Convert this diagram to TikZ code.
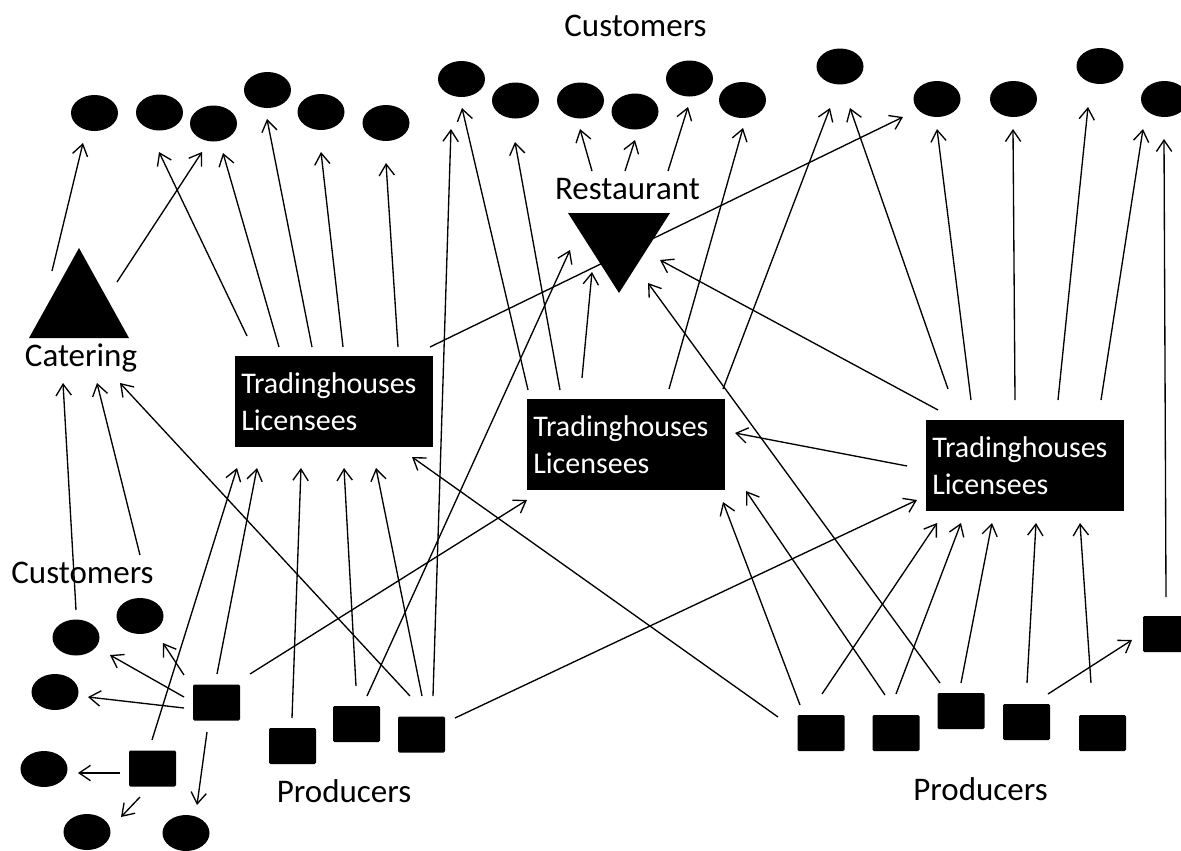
\documentclass[tikz,border=0pt]{standalone}
\usepackage{fontspec}
\setmainfont{Carlito}
\usetikzlibrary{arrows.meta,shapes.geometric}
\begin{document}
\begin{tikzpicture}[x=0.75pt,y=-0.75pt,
 arr/.style={-{Straight Barb[length=8.5pt,width=11.5pt]}, line width=1pt},
 cust/.style={ellipse,fill=black,minimum width=35.25pt,minimum height=27pt,inner sep=0pt},
 prod/.style={rectangle,fill=black,minimum width=35.25pt,minimum height=27pt,inner sep=0pt,rounded corners=1pt},
 thbox/.style={rectangle,fill=black,text=white,anchor=north west,minimum height=68.25pt,text width=139.5pt,inner xsep=4.5pt,align=left,font=\fontsize{22.5}{28}\selectfont},
 lab/.style={anchor=base,inner sep=0pt,font=\fontsize{24.75}{30}\selectfont}]
\useasboundingbox (0,0) rectangle (1181,850);
\clip (0,0) rectangle (1181,850);

% ---------- connectors (drawn first, shapes on top) ----------
% Catering -> customers
\draw[arr] (52,271) -- (83,143);
\draw[arr] (117,282) -- (202,152);
% Tradinghouses 1 -> customers
\draw[arr] (247,336) -- (159,152);
\draw[arr] (279,347) -- (223,153);
\draw[arr] (312,347) -- (267,119);
\draw[arr] (343,347) -- (321,152);
\draw[arr] (398,347) -- (386,163);
\draw[arr] (430,347) -- (903,117);
% Restaurant -> customers
\draw[arr] (592,171) -- (580,129);
\draw[arr] (625,171) -- (635,140);
\draw[arr] (668,171) -- (688,107);
% Tradinghouses 2
\draw[arr] (528,390) -- (462,108);
\draw[arr] (560,390) -- (515,142);
\draw[arr] (582,378) -- (592,272);
\draw[arr] (669,389) -- (743,128);
\draw[arr] (723,389) -- (830,108);
% Tradinghouses 3
\draw[arr] (938,410) -- (660,260);
\draw[arr] (907,466) -- (735,433);
\draw[arr] (948,389) -- (850,108);
\draw[arr] (971,400) -- (937,129);
\draw[arr] (1015,400) -- (1013,129);
\draw[arr] (1058,400) -- (1088,107);
\draw[arr] (1101,400) -- (1143,129);
% right single producer
\draw[arr] (1166,597) -- (1164,139);
% right producers
\draw[arr] (778,717) -- (412,457);
\draw[arr] (800,705) -- (723,502);
\draw[arr] (885,695) -- (746,491);
\draw[arr] (940,683) -- (648,283);
\draw[arr] (822,694) -- (937,523);
\draw[arr] (896,694) -- (961,523);
\draw[arr] (961,683) -- (992,523);
\draw[arr] (1027,683) -- (1036,523);
\draw[arr] (1091,683) -- (1080,523);
\draw[arr] (1048,694) -- (1132,640);
% to Catering
\draw[arr] (76,610) -- (63,383);
\draw[arr] (140,555) -- (97,383);
\draw[arr] (410,696) -- (120,383);
% left producers
\draw[arr] (184,675) -- (163,643);
\draw[arr] (184,697) -- (110,655);
\draw[arr] (184,708) -- (88,697);
\draw[arr] (207,732) -- (197,805);
\draw[arr] (217,674) -- (257,468);
\draw[arr] (250,674) -- (527,500);
\draw[arr] (120,773) -- (78,773);
\draw[arr] (140,797) -- (121,817);
\draw[arr] (152,740) -- (237,468);
\draw[arr] (292,718) -- (301,468);
\draw[arr] (356,686) -- (344,468);
\draw[arr] (367,696) -- (570,250);
\draw[arr] (422,696) -- (376,468);
\draw[arr] (433,696) -- (451,129);
\draw[arr] (455,718) -- (917,500);

% ---------- customers ----------
\foreach \n/\x/\y in {e1/94.5/113, e2/159.5/112.5, e3/213.5/123.5, e4/267.5/90, e5/321/112, e6/386/123,
  e7/461.5/79, e8/515.5/100.5, e9/580.5/100.5, e10/635/111.5, e11/689.5/78.5, e12/742.5/100,
  e13/840/66.5, e14/937/99, e15/1013.5/99, e16/1100/66, e17/1164.5/99,
  c1/76/637.5, c2/140/616, c3/55/692, c4/44/769, c5/87/832, c6/186/833}
  \node[cust] (\n) at (\x,\y) {};

% ---------- producers ----------
\foreach \n/\x/\y in {s1/216.5/702.5, s2/152.5/768.5, p1/292.5/746, p2/356.5/724, p3/421.5/734.5,
  q1/821/733, q2/896/733, q3/961/711, q4/1026.5/722, q5/1102.5/733, r6/1166.5/634}
  \node[prod] (\n) at (\x,\y) {};

% ---------- triangles ----------
\fill (79,248) -- (129,338) -- (29,338) -- cycle;
\coordinate (catering) at (79,308);
\fill (568,213) -- (670,213) -- (619,293) -- cycle;
\coordinate (restaurant) at (619,240);

% ---------- trading houses ----------
\node[thbox] (th1) at (235,356) {Tradinghouses\\Licensees};
\node[thbox] (th2) at (527,399) {Tradinghouses\\Licensees};
\node[thbox] (th3) at (926,420) {Tradinghouses\\Licensees};

% ---------- labels ----------
\node[lab] (lcusttop) at (635.5,36) {Customers};
\node[lab] (lrest) at (627.5,199) {Restaurant};
\node[lab] (lcat) at (81,366) {Catering};
\node[lab] (lcustleft) at (82.5,583) {Customers};
\node[lab] (lprodl) at (344,802) {Producers};
\node[lab] (lprodr) at (980.5,800) {Producers};
\end{tikzpicture}
\end{document}
